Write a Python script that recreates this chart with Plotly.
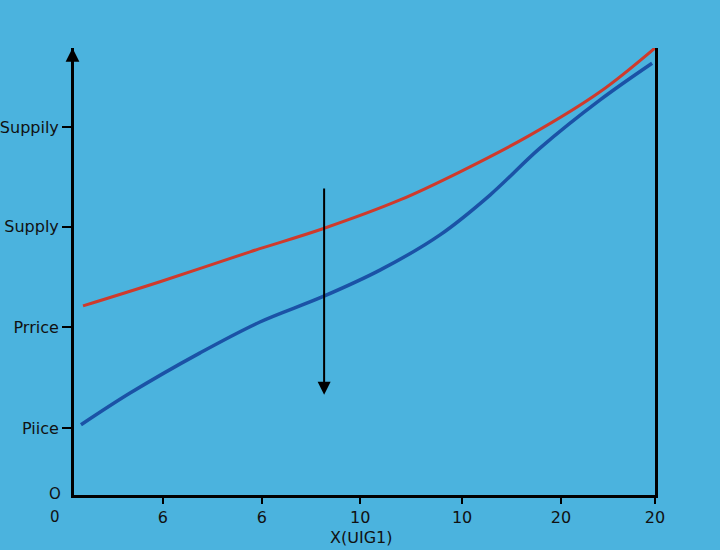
import plotly.graph_objects as go

# Data (in axis units: x 0-20, y 0-10)
red_x = [0.31, 2.96, 6.06, 8.54, 11.22, 13.29, 15.70, 18.11, 20.0]
red_y = [4.23, 4.77, 5.44, 5.95, 6.60, 7.23, 8.05, 9.02, 10.0]
blue_x = [0.24, 1.93, 4.34, 6.40, 8.54, 10.53, 12.60, 14.32, 16.04, 18.11, 19.90]
blue_y = [1.57, 2.28, 3.18, 3.87, 4.43, 5.03, 5.82, 6.71, 7.76, 8.84, 9.66]

x_tickvals = [3.06, 6.47, 9.85, 13.36, 16.76, 20.0]
x_ticktext = ["6", "6", "10", "10", "20", "20"]
y_tickvals = [1.50, 3.76, 6.0, 8.23]
y_ticktext = ["Piice", "Prrice", "Supply", "Suppily"]

bg = "#4bb3de"
font = "DejaVu Sans"
tcol = "#111111"

fig = go.Figure()
fig.add_trace(go.Scatter(x=red_x, y=red_y, mode="lines",
                         line=dict(color="#cf3a2c", width=3, shape="spline"),
                         cliponaxis=False, showlegend=False))
fig.add_trace(go.Scatter(x=blue_x, y=blue_y, mode="lines",
                         line=dict(color="#1b52a6", width=3.5, shape="spline"),
                         cliponaxis=False, showlegend=False))

fig.update_layout(
    width=720, height=550,
    margin=dict(l=74, r=65, t=48, b=55, autoexpand=False),
    paper_bgcolor=bg, plot_bgcolor=bg,
    font=dict(family=font, size=16, color=tcol),
    xaxis=dict(range=[0, 20], showgrid=False, zeroline=False, automargin=False,
               showline=True, linecolor="black", linewidth=3,
               ticks="outside", ticklen=6, tickwidth=2, tickcolor="black",
               tickvals=x_tickvals, ticktext=x_ticktext,
               tickfont=dict(family=font, size=16, color=tcol)),
    yaxis=dict(range=[0, 10], showgrid=False, zeroline=False, automargin=False,
               showline=True, linecolor="black", linewidth=3, mirror=True,
               ticks="outside", ticklen=9, tickwidth=2, tickcolor="black",
               tickvals=y_tickvals, ticktext=y_ticktext,
               tickfont=dict(family=font, size=16, color=tcol)),
)

# arrow on top of left axis (paper coords, pixel offset for tail)
fig.add_annotation(x=-0.0026, y=1.0, xref="paper", yref="paper", ax=0, ay=40,
                   text="", showarrow=True, arrowhead=2, arrowsize=1.1,
                   arrowwidth=2.5, arrowcolor="black")
# vertical arrow in middle
fig.add_annotation(x=8.61, y=2.24, ax=8.61, ay=6.89, xref="x", yref="y", axref="x", ayref="y",
                   text="", showarrow=True, arrowhead=2, arrowsize=1.3,
                   arrowwidth=2, arrowcolor="black")

# origin labels and x title (paper coordinates)
fig.add_annotation(x=-0.0327, y=0.003, xref="paper", yref="paper", text="O", showarrow=False,
                   xanchor="center", yanchor="middle",
                   font=dict(family=font, size=15, color=tcol))
fig.add_annotation(x=-0.0327, y=-0.049, xref="paper", yref="paper", text="0", showarrow=False,
                   xanchor="center", yanchor="middle",
                   font=dict(family=font, size=15, color=tcol))
fig.add_annotation(x=0.4935, y=-0.0940, xref="paper", yref="paper", text="X(ᑌIG1)", showarrow=False,
                   xanchor="center", yanchor="middle",
                   font=dict(family=font, size=16, color=tcol))

fig.write_html("out.html")
